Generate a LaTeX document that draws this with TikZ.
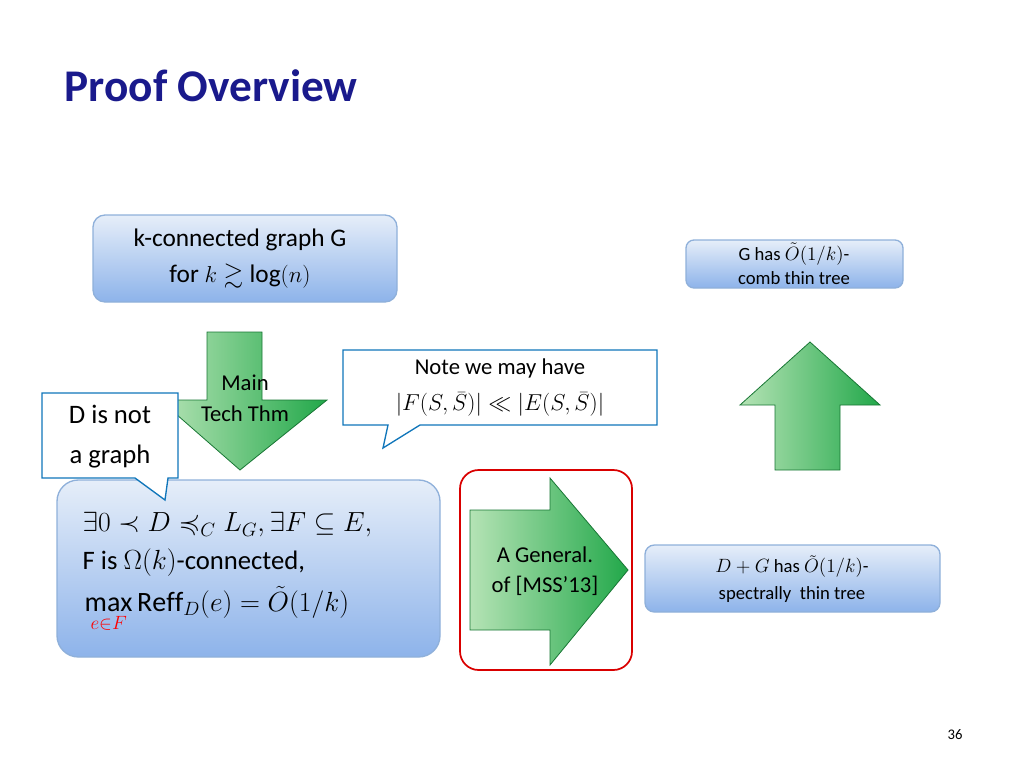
\documentclass[tikz,border=0pt]{standalone}
\usepackage{amsmath,amssymb}
\usepackage{fontspec}
\setmainfont{Carlito}
\usetikzlibrary{shapes.callouts}
\definecolor{ttl}{HTML}{1A1A8C}
\definecolor{bbord}{HTML}{8FB0DA}
\definecolor{btop}{HTML}{E6EEF9}
\definecolor{bbot}{HTML}{8DB3EA}
\definecolor{gl}{HTML}{B5E3B5}
\definecolor{gd}{HTML}{22A84A}
\tikzset{
 bbox/.style={draw=bbord,line width=1pt,rounded corners=9pt,top color=btop,bottom color=bbot},
 garrow/.style={draw=gd!70!black,line width=0.6pt,left color=gl,right color=gd},
 callbox/.style={draw=ttl!60!cyan,line width=1pt,fill=white},
 txt/.style={align=center,inner sep=0pt}
}
\begin{document}
\begin{tikzpicture}[x=0.75pt,y=-0.75pt]
\useasboundingbox (0,0) rectangle (1024,768);
\node[anchor=west,text=ttl,font=\bfseries\fontsize{34}{40}\selectfont] (title) at (60,86) {Proof Overview};
% box 1
\draw[bbox] (93,215) rectangle (397,302);
\node[txt,font=\fontsize{19}{27}\selectfont] (b1) at (240,259) {k-connected graph G\\ for $k\gtrsim\log(n)$};
% down arrow
\draw[garrow] (207,332) -- (262,332) -- (262,400) -- (327,400) -- (240,470) -- (160,400) -- (207,400) -- cycle;
\node[txt,font=\fontsize{17}{23}\selectfont] (mt) at (245,398) {Main\\ Tech Thm};
% note callout
\draw[callbox] (343,350) -- (657,350) -- (657,425) -- (420,425) -- (383,448) -- (388,425) -- (343,425) -- cycle;
\node[txt,font=\fontsize{17}{27}\selectfont] (note) at (500,388) {Note we may have\\ $|F(S,\bar S)|\ll|E(S,\bar S)|$};
% big box
\draw[bbox,rounded corners=16pt] (57,480) rectangle (440,657);
\node[anchor=west,font=\fontsize{21}{26}\selectfont] (l1) at (78,525) {$\exists 0\prec D\preccurlyeq_C L_G,\exists F\subseteq E,$};
\node[anchor=west,font=\fontsize{20}{26}\selectfont] (l2) at (78,563) {F is $\Omega(k)$-connected,};
\node[anchor=west,font=\fontsize{21}{26}\selectfont] (l3) at (80,610) {$\max\limits_{\textcolor{red}{e\in F}}\mathrm{Reff}_D(e)=\tilde O(1/k)$};
% callout D (on top)
\draw[callbox] (42,393) -- (178,393) -- (178,478) -- (168,478) -- (165,500) -- (135,478) -- (42,478) -- cycle;
\node[txt,font=\fontsize{20}{30}\selectfont] (dn) at (110,437) {D is not\\ a graph};
% red frame
\draw[red!85!black,line width=1.3pt,rounded corners=14pt] (460,470) rectangle (632,670);
% right arrow
\draw[garrow] (470,510) -- (550,510) -- (550,478) -- (628,570) -- (550,665) -- (550,630) -- (470,630) -- cycle;
\node[txt,font=\fontsize{17}{23}\selectfont] (ag) at (545,571) {A General.\\ of [MSS'13]};
% box D+G
\draw[bbox,rounded corners=7pt] (645,545) rectangle (940,612);
\node[txt,font=\fontsize{14}{20}\selectfont] (dg) at (792,579) {$D+G$ has $\tilde O(1/k)$-\\ spectrally \ thin tree};
% up arrow
\draw[garrow] (775,470) -- (775,405) -- (740,405) -- (810,342) -- (880,405) -- (840,405) -- (840,470) -- cycle;
% box G
\draw[bbox,rounded corners=6pt] (686,240) rectangle (903,288);
\node[txt,font=\fontsize{14}{18}\selectfont] (gh) at (794,264) {G has $\tilde O(1/k)$-\\ comb thin tree};
\node[font=\fontsize{11}{13}\selectfont] (pg) at (955,735) {36};
\end{tikzpicture}
\end{document}
